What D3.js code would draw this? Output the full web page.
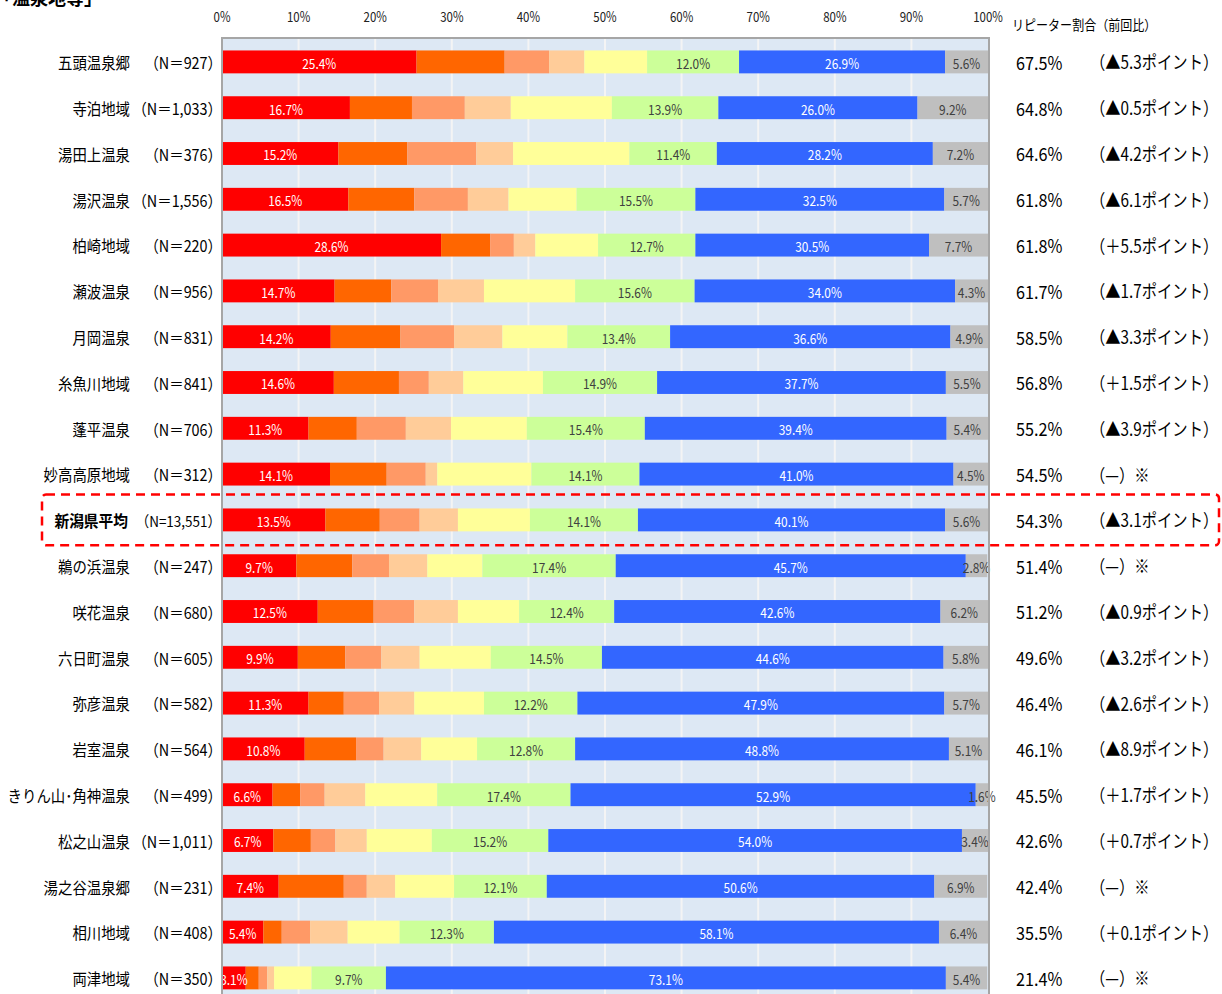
<!DOCTYPE html>
<html>
<head>
<meta charset="utf-8">
<script src="https://cdn.jsdelivr.net/npm/d3@7"></script>
<style>
body{margin:0;background:#fff}
</style>
</head>
<body>
<svg id="chart" width="1222" height="994"></svg>
<script>
var areas = ['五頭温泉郷','寺泊地域','湯田上温泉','湯沢温泉','柏崎地域','瀬波温泉','月岡温泉','糸魚川地域','蓬平温泉','妙高高原地域','新潟県平均','鵜の浜温泉','咲花温泉','六日町温泉','弥彦温泉','岩室温泉','きりん山･角神温泉','松之山温泉','湯之谷温泉郷','相川地域','両津地域']
var counts = ['927','1,033','376','1,556','220','956','831','841','706','312','13,551','247','680','605','582','564','499','1,011','231','408','350']

var red    = [25.4,16.7,15.2,16.5,28.6,14.7,14.2,14.6,11.3,14.1,13.5, 9.7,12.5, 9.9,11.3,10.8, 6.6, 6.7, 7.4, 5.4, 3.1]
var orange = [11.5, 8.1, 9.0, 8.6, 6.4, 7.4, 9.1, 8.5, 6.3, 7.4, 7.1, 7.3, 7.3, 6.2, 4.6, 6.7, 3.6, 4.9, 8.5, 2.4, 1.7]
var salmon = [ 5.8, 6.9, 9.0, 7.0, 3.1, 6.1, 7.0, 3.9, 6.4, 5.1, 5.2, 4.8, 5.3, 4.7, 4.6, 3.6, 3.2, 3.2, 3.0, 3.7, 1.1]
var peach  = [ 4.6, 6.0, 4.8, 5.3, 2.8, 6.0, 6.3, 4.5, 5.9, 1.5, 5.0, 5.0, 5.7, 5.0, 4.6, 4.9, 5.3, 4.1, 3.7, 4.9, 0.9]
var yellow = [ 8.2,13.2,15.2, 8.9, 8.2,11.9, 8.5,10.4, 9.9,12.3, 9.4, 7.2, 8.0, 9.3, 9.1, 7.3, 9.4, 8.5, 7.7, 6.8, 4.9]
var green  = [12.0,13.9,11.4,15.5,12.7,15.6,13.4,14.9,15.4,14.1,14.1,17.4,12.4,14.5,12.2,12.8,17.4,15.2,12.1,12.3, 9.7]
var blue   = [26.9,26.0,28.2,32.5,30.5,34.0,36.6,37.7,39.4,41.0,40.1,45.7,42.6,44.6,47.9,48.8,52.9,54.0,50.6,58.1,73.1]
var gray   = [ 5.6, 9.2, 7.2, 5.7, 7.7, 4.3, 4.9, 5.5, 5.4, 4.5, 5.6, 2.8, 6.2, 5.8, 5.7, 5.1, 1.6, 3.4, 6.9, 6.4, 5.4]

var repeatRate = ['67.5%','64.8%','64.6%','61.8%','61.8%','61.7%','58.5%','56.8%','55.2%','54.5%','54.3%','51.4%','51.2%','49.6%','46.4%','46.1%','45.5%','42.6%','42.4%','35.5%','21.4%']
var change = ['（▲5.3ポイント）','（▲0.5ポイント）','（▲4.2ポイント）','（▲6.1ポイント）','（＋5.5ポイント）','（▲1.7ポイント）','（▲3.3ポイント）','（＋1.5ポイント）','（▲3.9ポイント）','（—）※','（▲3.1ポイント）','（—）※','（▲0.9ポイント）','（▲3.2ポイント）','（▲2.6ポイント）','（▲8.9ポイント）','（＋1.7ポイント）','（＋0.7ポイント）','（—）※','（＋0.1ポイント）','（—）※']

var ticks = [0,10,20,30,40,50,60,70,80,90,100]
var keys = ['red','orange','salmon','peach','yellow','green','blue','gray']
var colors = ['#ff0000','#ff6600','#ff9966','#ffcc99','#ffff99','#ccff99','#3366ff','#bfbfbf']
var labelled = {red: '#ffffff', green: '#404040', blue: '#ffffff', gray: '#404040'}
var avgName = '新潟県平均'

var rows = areas.map(function(d, i){
    return {name: d, red: red[i], orange: orange[i], salmon: salmon[i], peach: peach[i],
        yellow: yellow[i], green: green[i], blue: blue[i], gray: gray[i]}
})

var svg = d3.select('#chart').attr('font-family', '"Noto Sans CJK JP", "Noto Sans", sans-serif')

var plotLeft = 222, plotRight = 988, plotTop = 38
var step = 45.8
var x = d3.scaleLinear().domain([0, 100]).range([plotLeft, plotRight])
var y = d3.scaleBand().domain(areas).range([plotTop + 1, plotTop + 1 + step * areas.length])
    .paddingInner(0.5).paddingOuter(0.25)
var color = d3.scaleOrdinal().domain(keys).range(colors)

function put(g, px, py, txt, size, anchor, fill, weight, sx){
    return g.append('text')
        .attr('transform', 'translate(' + px + ',' + py + ') scale(' + sx + ',1)')
        .attr('text-anchor', anchor)
        .attr('dominant-baseline', 'central')
        .attr('font-size', size + 'px')
        .attr('font-weight', weight || 'normal')
        .attr('fill', fill)
        .text(txt)
}

// cut-off title at the very top
put(svg, -6, -3, '「温泉地等」', 18, 'start', '#000', 'bold', 1)

// plot background + grid
svg.append('rect')
    .attr('x', plotLeft).attr('y', plotTop)
    .attr('width', plotRight - plotLeft).attr('height', 994 - plotTop + 10)
    .attr('fill', '#dde8f4')

svg.append('g').selectAll('line').data(ticks.slice(1, -1)).enter()
    .append('line')
    .attr('x1', function(d){ return x(d) }).attr('x2', function(d){ return x(d) })
    .attr('y1', plotTop).attr('y2', 994)
    .attr('stroke', '#f4f4f4').attr('stroke-width', 2)

// tick labels on top
var tg = svg.append('g')
ticks.forEach(function(t){
    put(tg, x(t), 16, t + '%', 14, 'middle', '#222', 'normal', 0.82)
})

// bars
var series = d3.stack().keys(keys)(rows)
var layers = svg.append('g').selectAll('g').data(series).enter()
    .append('g')
    .attr('fill', function(d){ return color(d.key) })

layers.selectAll('rect').data(function(d){ return d }).enter()
    .append('rect')
    .attr('x', function(d){ return x(d[0]) })
    .attr('y', function(d){ return y(d.data.name) })
    .attr('width', function(d){ return x(d[1]) - x(d[0]) })
    .attr('height', y.bandwidth())

var lg = svg.append('g')
series.forEach(function(s){
    if(!labelled[s.key]) return
    s.forEach(function(d){
        put(lg, (x(d[0]) + x(d[1])) / 2, y(d.data.name) + y.bandwidth() / 2 + 1,
            d.data[s.key].toFixed(1) + '%', 14, 'middle', labelled[s.key], 'normal', 0.85)
    })
})

// plot frame
svg.append('path')
    .attr('d', 'M' + plotLeft + ',1000V' + plotTop + 'H' + (plotRight + 1) + 'V1000')
    .attr('fill', 'none').attr('stroke', '#a6a6a6').attr('stroke-width', 2)

// category labels
var cg = svg.append('g')
areas.forEach(function(name, i){
    var cy = y(name) + y.bandwidth() / 2
    if(name == avgName){
        put(cg, 128, cy, name, 16, 'end', '#000', 'bold', 0.92)
        put(cg, 221, cy, '（N=' + counts[i] + '）', 15, 'end', '#000', 'normal', 0.9)
    } else {
        put(cg, 130, cy, name, 16, 'end', '#000', 'normal', 0.9)
        put(cg, 222, cy, '（N＝' + counts[i] + '）', 16, 'end', '#000', 'normal', 0.9)
    }
    put(cg, 1016, cy, repeatRate[i], 18, 'start', '#000', 'normal', 0.9)
    put(cg, 1090, cy, change[i], 18, 'start', '#000', 'normal', 0.85)
})

put(svg, 1012, 24, 'リピーター割合（前回比）', 14, 'start', '#000', 'normal', 0.86)

// dashed box around the prefecture average
var ay = y(avgName)
svg.append('rect')
    .attr('x', 42).attr('y', ay - 14)
    .attr('width', 1219 - 42).attr('height', y.bandwidth() + 28)
    .attr('rx', 4)
    .attr('fill', 'none')
    .attr('stroke', '#ff0000').attr('stroke-width', 2.5)
    .attr('stroke-dasharray', '9,6')
</script>
</body>
</html>
